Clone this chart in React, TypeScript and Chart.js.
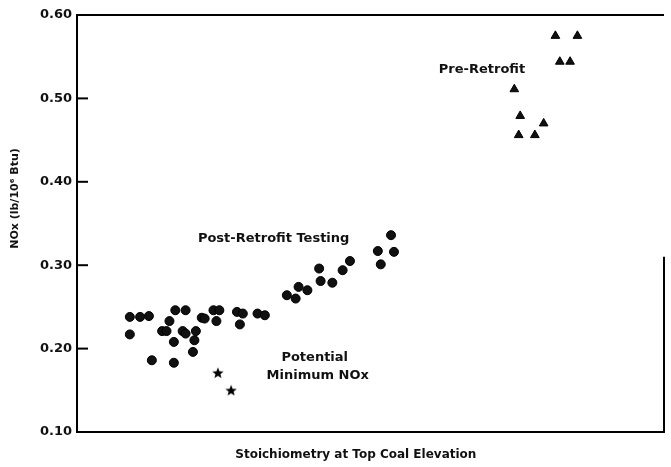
import React, { useEffect, useRef } from "react";
import { Chart, registerables } from "chart.js";

Chart.register(...registerables);

// Post-retrofit testing (stoichiometry, NOx lb/10^6 Btu)
const postX = [0.836, 0.843, 0.849, 0.836, 0.851, 0.866, 0.867, 0.874, 0.863, 0.858, 0.861, 0.872, 0.874, 0.866, 0.881, 0.880, 0.879, 0.885, 0.887, 0.893, 0.897, 0.895, 0.909, 0.913, 0.911, 0.923, 0.928, 0.943, 0.949, 0.951, 0.957, 0.965, 0.966, 0.974, 0.981, 0.986, 1.005, 1.016, 1.007, 1.014];
const postY = [0.238, 0.238, 0.239, 0.217, 0.186, 0.183, 0.246, 0.246, 0.233, 0.221, 0.221, 0.221, 0.218, 0.208, 0.221, 0.210, 0.196, 0.237, 0.236, 0.246, 0.246, 0.233, 0.244, 0.242, 0.229, 0.242, 0.240, 0.264, 0.260, 0.274, 0.270, 0.296, 0.281, 0.279, 0.294, 0.305, 0.317, 0.316, 0.301, 0.336];

// Pre-retrofit
const preX = [1.126, 1.141, 1.129, 1.136, 1.098, 1.102, 1.118, 1.101, 1.112];
const preY = [0.575, 0.575, 0.544, 0.544, 0.511, 0.479, 0.470, 0.456, 0.456];

// Potential minimum NOx
const minX = [0.896, 0.905];
const minY = [0.171, 0.150];

const yTicks = [0.1, 0.2, 0.3, 0.4, 0.5, 0.6];
const innerTicks = [0.2, 0.3, 0.4, 0.5];

const labelTexts = ["Pre-Retrofit", "Post-Retrofit Testing", "Potential", "Minimum NOx"];
const labelX = [1.076, 0.934, 0.962, 0.964];
const labelY = [0.535, 0.332, 0.189, 0.168];

const xTitle = "Stoichiometry at Top Coal Elevation";
const xTitlePos = 0.99;
const yTitle = "NOx (lb/10\u2076 Btu)";
const yTitlePos = 0.38;

const FONT = "'DejaVu Sans', 'Liberation Sans', sans-serif";

function makeStar(): HTMLCanvasElement {
  const c = document.createElement("canvas");
  c.width = 12;
  c.height = 12;
  const g = c.getContext("2d")!;
  g.fillStyle = "#000";
  g.beginPath();
  const cx = 6, cy = 6.5, R = 6, r = 2.6;
  for (let i = 0; i < 10; i++) {
    const a = -Math.PI / 2 + (i * Math.PI) / 5;
    const rad = i % 2 === 0 ? R : r;
    const px = cx + rad * Math.cos(a);
    const py = cy + rad * Math.sin(a);
    if (i === 0) g.moveTo(px, py);
    else g.lineTo(px, py);
  }
  g.closePath();
  g.fill();
  return c;
}

const decorPlugin = {
  id: "decor",
  afterDraw(chart: any) {
    const { ctx, chartArea, scales } = chart;
    const ys = scales.y;
    const xs = scales.x;
    ctx.save();
    ctx.strokeStyle = "#000";
    ctx.lineWidth = 2;
    // top border
    ctx.beginPath();
    ctx.moveTo(chartArea.left, chartArea.top);
    ctx.lineTo(chartArea.right, chartArea.top);
    ctx.stroke();
    // partial right border
    ctx.beginPath();
    ctx.moveTo(chartArea.right, ys.getPixelForValue(0.31));
    ctx.lineTo(chartArea.right, chartArea.bottom);
    ctx.stroke();
    // inward ticks
    innerTicks.forEach((v) => {
      const py = ys.getPixelForValue(v);
      ctx.beginPath();
      ctx.moveTo(chartArea.left, py);
      ctx.lineTo(chartArea.left + 11, py);
      ctx.stroke();
    });
    // annotations
    ctx.fillStyle = "#111";
    ctx.font = `bold 13px ${FONT}`;
    ctx.textAlign = "center";
    ctx.textBaseline = "middle";
    labelTexts.forEach((t, i) => {
      ctx.fillText(t, xs.getPixelForValue(labelX[i]), ys.getPixelForValue(labelY[i]));
    });
    // x title
    ctx.font = `bold 12px ${FONT}`;
    ctx.fillText(xTitle, xs.getPixelForValue(xTitlePos), chartArea.bottom + 23);
    // y title
    ctx.font = `bold 11px ${FONT}`;
    ctx.translate(15, ys.getPixelForValue(yTitlePos));
    ctx.rotate(-Math.PI / 2);
    ctx.fillText(yTitle, 0, 0);
    ctx.restore();
  },
};

export default function App() {
  const ref = useRef<HTMLCanvasElement>(null);
  useEffect(() => {
    if (!ref.current) return;
    const star = makeStar();
    const chart = new Chart(ref.current, {
      type: "scatter",
      data: {
        datasets: [
          {
            label: "Post-Retrofit Testing",
            data: postX.map((x, i) => ({ x, y: postY[i] })),
            pointStyle: "circle",
            pointRadius: 4.5,
            backgroundColor: "#111",
            borderColor: "#000",
            borderWidth: 1,
          },
          {
            label: "Pre-Retrofit",
            data: preX.map((x, i) => ({ x, y: preY[i] })),
            pointStyle: "triangle",
            pointRadius: 5,
            backgroundColor: "#111",
            borderColor: "#000",
            borderWidth: 1,
          },
          {
            label: "Potential Minimum NOx",
            data: minX.map((x, i) => ({ x, y: minY[i] })),
            pointStyle: star as any,
            pointRadius: 6,
            backgroundColor: "#000",
            borderColor: "#000",
          },
        ],
      },
      options: {
        animation: false,
        responsive: true,
        maintainAspectRatio: false,
        layout: { padding: { top: 15, right: 3, left: 0, bottom: 0 } },
        plugins: {
          legend: { display: false },
          tooltip: { enabled: false },
        },
        scales: {
          x: {
            type: "linear",
            min: 0.8,
            max: 1.2,
            grid: { display: false, drawTicks: false },
            border: { display: true, color: "#000", width: 2 },
            ticks: { display: false },
            title: { display: false },
            afterFit(scale: any) {
              scale.height = 35;
            },
          },
          y: {
            type: "linear",
            min: 0.1,
            max: 0.6,
            afterBuildTicks(scale: any) {
              scale.ticks = yTicks.map((v) => ({ value: v }));
            },
            grid: { display: false, drawTicks: false },
            border: { display: true, color: "#000", width: 2 },
            ticks: {
              color: "#111",
              padding: 5,
              font: { family: FONT, size: 13, weight: "bold" },
              callback: (v: any) => Number(v).toFixed(2),
            },
            title: { display: false },
            afterFit(scale: any) {
              scale.width = 77;
            },
          },
        },
      },
      plugins: [decorPlugin],
    });
    return () => chart.destroy();
  }, []);
  return (
    <div style={{ position: "absolute", left: 0, top: 0, width: 671, height: 467, background: "#fff" }}>
      <canvas ref={ref} />
    </div>
  );
}
